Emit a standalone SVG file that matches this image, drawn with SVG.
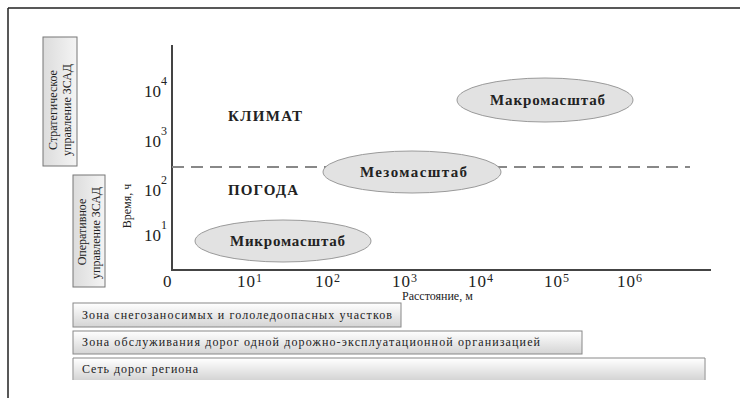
<svg xmlns="http://www.w3.org/2000/svg" width="740" height="398" viewBox="0 0 740 398">
<defs>
<linearGradient id="barg" x1="0" y1="0" x2="0" y2="1">
<stop offset="0" stop-color="#ffffff"/>
<stop offset="1" stop-color="#d4d4d4"/>
</linearGradient>
<linearGradient id="boxg" x1="0" y1="0" x2="1" y2="0">
<stop offset="0" stop-color="#dcdcdc"/>
<stop offset="1" stop-color="#f4f4f4"/>
</linearGradient>
<style>
.frame{stroke:#222;stroke-width:1.5;fill:none}
.axis{stroke:#444;stroke-width:2;fill:none}
.dash{stroke:#888;stroke-width:2;stroke-dasharray:12 7;fill:none}
.ell{fill:#e2e2e2;stroke:#9a9a9a;stroke-width:1}
.box{fill:url(#boxg);stroke:#777;stroke-width:1}
.bar{fill:url(#barg);stroke:#888;stroke-width:1}
.t{fill:#222;font-family:'Liberation Serif','Times New Roman',serif}
.eln{font-size:15px;font-weight:bold}
.reg{font-size:15px;font-weight:bold}
.tick{font-size:17px}
.sup{font-size:12px}
.vt{font-size:12px;text-anchor:middle}
.bt{font-size:12px}
</style>
</defs>
<rect x="0" y="0" width="740" height="398" fill="#ffffff"/>
<path class="frame" d="M8 8 H740 M8 8 V398"/>
<g font-family="'Liberation Serif', 'Times New Roman', serif">
<g id="strategic">
<rect class="box" x="43" y="37" width="34" height="129"/>
<text class="t vt" transform="translate(57,110) rotate(-90)">Стратегическое</text>
<text class="t vt" transform="translate(71,110) rotate(-90)">управление ЗСАД</text>
</g>
<g id="operative">
<rect class="box" x="73" y="175" width="32" height="112"/>
<text class="t vt" transform="translate(86,232) rotate(-90)">Оперативное</text>
<text class="t vt" transform="translate(100,233) rotate(-90)">управление ЗСАД</text>
</g>

<g id="axes">
<path class="axis" d="M172 45 V270 H711"/>
<path class="dash" d="M172 167 H690"/>
<text class="t" font-size="12" text-anchor="middle" transform="translate(131,206) rotate(-90)">Время, ч</text>
<text class="t" font-size="12" x="402" y="300">Расстояние, м</text>
</g>

<g id="yticks">
<text class="t tick" x="144" y="97">10<tspan class="sup" dy="-12">4</tspan></text>
<text class="t tick" x="144" y="147">10<tspan class="sup" dy="-12">3</tspan></text>
<text class="t tick" x="144" y="196">10<tspan class="sup" dy="-12">2</tspan></text>
<text class="t tick" x="144" y="241">10<tspan class="sup" dy="-12">1</tspan></text>
</g>
<g id="xticks">
<text class="t tick" x="163" y="287">0</text>
<text class="t tick" x="237" y="287" letter-spacing="1">10<tspan class="sup" dy="-5">1</tspan></text>
<text class="t tick" x="315" y="287" letter-spacing="1">10<tspan class="sup" dy="-5">2</tspan></text>
<text class="t tick" x="392" y="287" letter-spacing="1">10<tspan class="sup" dy="-5">3</tspan></text>
<text class="t tick" x="468" y="287" letter-spacing="1">10<tspan class="sup" dy="-5">4</tspan></text>
<text class="t tick" x="544" y="287" letter-spacing="1">10<tspan class="sup" dy="-5">5</tspan></text>
<text class="t tick" x="617" y="287" letter-spacing="1">10<tspan class="sup" dy="-5">6</tspan></text>
</g>

<g id="climate"><text class="t reg" x="228" y="121" textLength="74">КЛИМАТ</text></g>
<g id="weather"><text class="t reg" x="228" y="195" textLength="70">ПОГОДА</text></g>

<g id="macro">
<ellipse class="ell" cx="545" cy="100" rx="88" ry="22"/>
<text class="t eln" x="490" y="105" textLength="115">Макромасштаб</text>
</g>
<g id="meso">
<ellipse class="ell" cx="412" cy="172" rx="89" ry="21"/>
<text class="t eln" x="360" y="177" textLength="107">Мезомасштаб</text>
</g>
<g id="micro">
<ellipse class="ell" cx="283" cy="241" rx="88" ry="21"/>
<text class="t eln" x="230" y="246" textLength="115">Микромасштаб</text>
</g>

<g id="zone1">
<rect class="bar" x="73" y="303" width="328" height="24"/>
<text class="t bt" x="82" y="319" textLength="310">Зона снегозаносимых и гололедоопасных участков</text>
</g>
<g id="zone2">
<rect class="bar" x="73" y="331" width="509" height="23"/>
<text class="t bt" x="82" y="346" textLength="458">Зона обслуживания дорог одной дорожно-эксплуатационной организацией</text>
</g>
<g id="zone3">
<rect x="73.5" y="358.5" width="631" height="21.5" fill="url(#barg)" stroke="none"/>
<path class="frame" style="stroke:#888;stroke-width:1" d="M73 380 V358 H705 V380"/>
<text class="t bt" x="82" y="373" textLength="116">Сеть дорог региона</text>
</g>
</g>
</svg>
